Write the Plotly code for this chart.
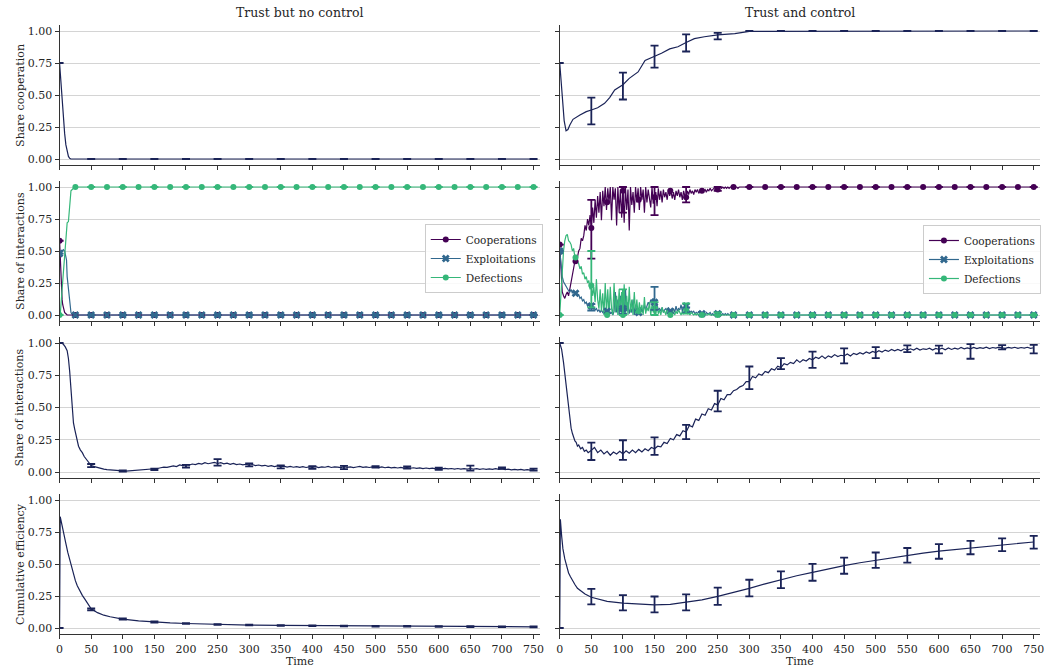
import plotly.graph_objects as go

# ---------------- data ----------------
NAVY = "#1a2357"
C_COOP = "#440154"
C_EXPL = "#31688e"
C_DEF = "#35b779"

T_ERR = [0, 50, 100, 150, 200, 250, 300, 350, 400, 450, 500, 550, 600, 650, 700, 750]
T_MARK = [0, 25, 50, 75, 100, 125, 150, 175, 200, 225, 250, 275, 300, 325, 350, 375,
          400, 425, 450, 475, 500, 525, 550, 575, 600, 625, 650, 675, 700, 725, 750]

# Row 1: share cooperation
t_coop_nc = [0, 2, 4, 6, 8, 10, 12, 14, 16, 18, 750]
coop_nc = [0.75, 0.60, 0.45, 0.32, 0.20, 0.11, 0.05, 0.02, 0.005, 0.0, 0.0]
coop_nc_err_y = [0.75, 0, 0, 0, 0, 0, 0, 0, 0, 0, 0, 0, 0, 0, 0, 0]
coop_nc_err = [0, 0, 0, 0, 0, 0, 0, 0, 0, 0, 0, 0, 0, 0, 0, 0]

t_coop_c = [0, 3, 7, 10, 13, 16, 21, 32, 42, 50, 60, 71, 79, 87, 100, 110, 124, 135,
            150, 161, 174, 187, 200, 213, 229, 250, 277, 300, 750]
coop_c = [0.75, 0.55, 0.30, 0.22, 0.23, 0.265, 0.31, 0.344, 0.37, 0.383, 0.40, 0.435,
          0.48, 0.54, 0.58, 0.63, 0.68, 0.77, 0.80, 0.826, 0.86, 0.877, 0.91, 0.94,
          0.955, 0.97, 0.98, 0.997, 1.0]
coop_c_err_y = [0.75, 0.375, 0.57, 0.80, 0.907, 0.96, 1, 1, 1, 1, 1, 1, 1, 1, 1, 1]
coop_c_err = [0, 0.105, 0.105, 0.086, 0.067, 0.025, 0, 0, 0, 0, 0, 0, 0, 0, 0, 0]

# Row 2: share of interactions (no control)
t_int_coop_nc = [0, 1, 2, 3, 4, 5, 6, 7, 8, 10, 12, 750]
int_coop_nc = [0.58, 0.45, 0.30, 0.20, 0.12, 0.08, 0.05, 0.03, 0.02, 0.01, 0.0, 0.0]
t_int_expl_nc = [0, 2, 4, 6, 8, 10, 11, 12, 14, 16, 18, 20, 750]
int_expl_nc = [0.48, 0.50, 0.50, 0.51, 0.50, 0.45, 0.43, 0.30, 0.20, 0.08, 0.02, 0.0, 0.0]
t_int_def_nc = [0, 1, 4, 7, 10, 12, 14, 16, 18, 22, 25, 750]
int_def_nc = [0.0, 0.0, 0.20, 0.42, 0.60, 0.72, 0.73, 0.90, 0.97, 0.99, 1.0, 1.0]

mark_coop_nc = [0.58, 0, 0, 0, 0, 0, 0, 0, 0, 0, 0, 0, 0, 0, 0, 0,
                0, 0, 0, 0, 0, 0, 0, 0, 0, 0, 0, 0, 0, 0, 0]
mark_expl_nc = [0.48, 0, 0, 0, 0, 0, 0, 0, 0, 0, 0, 0, 0, 0, 0, 0,
                0, 0, 0, 0, 0, 0, 0, 0, 0, 0, 0, 0, 0, 0, 0]
mark_def_nc = [0, 1, 1, 1, 1, 1, 1, 1, 1, 1, 1, 1, 1, 1, 1, 1,
               1, 1, 1, 1, 1, 1, 1, 1, 1, 1, 1, 1, 1, 1, 1]
err_coop_nc_y = [0.58, 0, 0, 0, 0, 0, 0, 0, 0, 0, 0, 0, 0, 0, 0, 0]
err_expl_nc_y = [0.48, 0, 0, 0, 0, 0, 0, 0, 0, 0, 0, 0, 0, 0, 0, 0]
err_def_nc_y = [0, 1, 1, 1, 1, 1, 1, 1, 1, 1, 1, 1, 1, 1, 1, 1]
err_zero = [0, 0, 0, 0, 0, 0, 0, 0, 0, 0, 0, 0, 0, 0, 0, 0]

# Row 2: share of interactions (control), t = 0..300 every 2, then 750
T2 = list(range(0, 302, 2)) + [750]
int_coop_c = [
    0.55, 0.30, 0.18, 0.15, 0.13, 0.16, 0.18, 0.15, 0.20, 0.27,
    0.32, 0.38, 0.42, 0.40, 0.47, 0.50, 0.52, 0.60, 0.58, 0.62,
    0.70, 0.66, 0.75, 0.70, 0.78, 0.68, 0.84, 0.72, 0.90, 0.76,
    0.93, 0.80, 0.96, 0.74, 0.97, 0.85, 1.00, 0.82, 0.99, 0.88,
    1.00, 0.74, 1.00, 0.90, 0.99, 0.70, 1.00, 0.80, 0.98, 0.76,
    0.97, 0.72, 1.00, 0.82, 0.98, 0.66, 1.00, 0.86, 0.96, 0.80,
    1.00, 0.88, 0.99, 0.82, 1.00, 0.90, 0.98, 0.80, 1.00, 0.88,
    0.98, 0.92, 0.84, 1.00, 0.87, 0.92, 0.96, 0.85, 0.99, 0.90,
    0.97, 0.88, 0.98, 0.92, 0.96, 0.90, 0.98, 0.93, 0.97, 0.91,
    0.96, 0.90, 0.97, 0.93, 0.98, 0.92, 0.96, 0.90, 0.97, 0.93,
    0.92, 0.97, 0.94, 0.98, 0.95, 0.97, 0.94, 0.98, 0.96, 0.98,
    0.95, 0.97, 0.96, 0.99, 0.97, 0.98, 0.96, 0.98, 0.97, 0.99,
    0.97, 0.98, 0.99, 0.98, 0.99, 0.98, 0.99, 1.00, 0.99, 1.00,
    0.99, 1.00, 0.99, 1.00, 0.99, 1.00, 1.00, 0.99, 1.00, 1.00,
    1.00, 0.99, 1.00, 1.00, 1.00, 1.00, 1.00, 1.00, 1.00, 1.00,
    1.00, 1.00]
int_expl_c = [
    0.50, 0.38, 0.30, 0.26, 0.24, 0.22, 0.20, 0.19, 0.18, 0.20,
    0.17, 0.19, 0.16, 0.18, 0.15, 0.16, 0.13, 0.14, 0.11, 0.12,
    0.09, 0.10, 0.07, 0.08, 0.06, 0.07, 0.05, 0.06, 0.04, 0.05,
    0.03, 0.04, 0.02, 0.04, 0.02, 0.03, 0.01, 0.03, 0.02, 0.05,
    0.01, 0.02, 0.00, 0.03, 0.18, 0.02, 0.12, 0.00, 0.15, 0.02,
    0.05, 0.00, 0.20, 0.03, 0.10, 0.01, 0.05, 0.02, 0.12, 0.00,
    0.08, 0.02, 0.04, 0.01, 0.06, 0.03, 0.02, 0.08, 0.04, 0.07,
    0.10, 0.08, 0.12, 0.09, 0.13, 0.10, 0.06, 0.08, 0.04, 0.05,
    0.03, 0.06, 0.02, 0.04, 0.05, 0.03, 0.06, 0.02, 0.04, 0.03,
    0.05, 0.02, 0.07, 0.03, 0.05, 0.04, 0.08, 0.03, 0.06, 0.04,
    0.07, 0.03, 0.04, 0.02, 0.03, 0.02, 0.03, 0.01, 0.02, 0.01,
    0.03, 0.01, 0.02, 0.01, 0.02, 0.00, 0.02, 0.01, 0.01, 0.02,
    0.00, 0.01, 0.00, 0.01, 0.02, 0.01, 0.00, 0.01, 0.00, 0.01,
    0.00, 0.01, 0.00, 0.01, 0.00, 0.00, 0.01, 0.00, 0.00, 0.00,
    0.00, 0.00, 0.00, 0.00, 0.00, 0.00, 0.00, 0.00, 0.00, 0.00,
    0.00, 0.00]
int_def_c = [
    0.00, 0.20, 0.38, 0.50, 0.58, 0.62, 0.63, 0.58, 0.57, 0.55,
    0.50, 0.52, 0.45, 0.47, 0.42, 0.40, 0.36, 0.38, 0.32, 0.33,
    0.28, 0.30, 0.25, 0.27, 0.20, 0.23, 0.15, 0.22, 0.10, 0.28,
    0.12, 0.05, 0.20, 0.03, 0.17, 0.00, 0.25, 0.02, 0.20, 0.00,
    0.22, 0.05, 0.00, 0.25, 0.02, 0.15, 0.00, 0.20, 0.03, 0.18,
    0.00, 0.24, 0.01, 0.15, 0.00, 0.22, 0.02, 0.12, 0.00, 0.18,
    0.01, 0.12, 0.00, 0.10, 0.02, 0.08, 0.00, 0.14, 0.01, 0.06,
    0.03, 0.10, 0.00, 0.08, 0.02, 0.05, 0.00, 0.07, 0.01, 0.04,
    0.00, 0.06, 0.02, 0.03, 0.00, 0.05, 0.01, 0.03, 0.00, 0.04,
    0.02, 0.00, 0.03, 0.01, 0.04, 0.02, 0.00, 0.03, 0.01, 0.02,
    0.04, 0.01, 0.02, 0.00, 0.02, 0.01, 0.00, 0.01, 0.00, 0.01,
    0.00, 0.01, 0.00, 0.01, 0.00, 0.01, 0.00, 0.00, 0.01, 0.00,
    0.00, 0.00, 0.00, 0.00, 0.00, 0.00, 0.00, 0.00, 0.00, 0.00,
    0.00, 0.00, 0.00, 0.00, 0.00, 0.00, 0.00, 0.00, 0.00, 0.00,
    0.00, 0.00, 0.00, 0.00, 0.00, 0.00, 0.00, 0.00, 0.00, 0.00,
    0.00, 0.00]

mark_coop_c = [0.55, 0.42, 0.68, 0.88, 0.97, 0.90, 0.92, 0.97, 0.92, 0.97, 0.98, 1.0,
               1, 1, 1, 1, 1, 1, 1, 1, 1, 1, 1, 1, 1, 1, 1, 1, 1, 1, 1]
mark_expl_c = [0.50, 0.17, 0.07, 0.03, 0.05, 0.02, 0.10, 0.03, 0.07, 0.01, 0.01, 0.0,
               0, 0, 0, 0, 0, 0, 0, 0, 0, 0, 0, 0, 0, 0, 0, 0, 0, 0, 0]
mark_def_c = [0.0, 0.45, 0.23, 0.0, 0.0, 0.03, 0.05, 0.0, 0.04, 0.0, 0.0, 0.0,
              0, 0, 0, 0, 0, 0, 0, 0, 0, 0, 0, 0, 0, 0, 0, 0, 0, 0, 0]
err_coop_c_y = [0.55, 0.67, 0.90, 0.89, 0.94, 0.985, 1, 1, 1, 1, 1, 1, 1, 1, 1, 1]
err_coop_c = [0, 0.23, 0.10, 0.11, 0.06, 0.015, 0, 0, 0, 0, 0, 0, 0, 0, 0, 0]
err_expl_c_y = [0.50, 0.06, 0.03, 0.13, 0.04, 0.01, 0, 0, 0, 0, 0, 0, 0, 0, 0, 0]
err_expl_c = [0, 0.025, 0.02, 0.09, 0.02, 0.01, 0, 0, 0, 0, 0, 0, 0, 0, 0, 0]
err_def_c_y = [0.0, 0.28, 0.10, 0.05, 0.05, 0.01, 0, 0, 0, 0, 0, 0, 0, 0, 0, 0]
err_def_c = [0, 0.22, 0.10, 0.05, 0.04, 0.01, 0, 0, 0, 0, 0, 0, 0, 0, 0, 0]

# Row 3: share of interactions (single series)
t3_early = [0, 3, 6, 9, 12, 14, 16, 18, 20, 22, 24, 26, 28, 30, 33, 36, 39, 42, 45, 48]
T3_LATE = list(range(50, 751, 5))
t3 = t3_early + T3_LATE
share_nc = [1.0, 1.0, 0.99, 0.97, 0.94, 0.88, 0.78, 0.62, 0.45, 0.38,
            0.33, 0.28, 0.23, 0.20, 0.17, 0.15, 0.12, 0.10, 0.08, 0.06] + [
    0.050, 0.042, 0.034, 0.027, 0.022, 0.018, 0.015, 0.012, 0.010, 0.009,
    0.008, 0.007, 0.009, 0.008, 0.010, 0.011, 0.013, 0.016, 0.018, 0.020,
    0.024, 0.027, 0.033, 0.038, 0.036, 0.045, 0.048, 0.042, 0.055, 0.050,
    0.058, 0.053, 0.062, 0.057, 0.066, 0.061, 0.072, 0.064, 0.068, 0.074,
    0.066, 0.072, 0.063, 0.069, 0.060, 0.066, 0.057, 0.062, 0.055, 0.060,
    0.053, 0.058, 0.050, 0.054, 0.047, 0.052, 0.044, 0.049, 0.042, 0.047,
    0.040, 0.045, 0.038, 0.043, 0.037, 0.042, 0.036, 0.041, 0.035, 0.040,
    0.036, 0.041, 0.034, 0.040, 0.037, 0.043, 0.035, 0.040, 0.038, 0.034,
    0.041, 0.036, 0.040, 0.034, 0.039, 0.043, 0.036, 0.040, 0.035, 0.039,
    0.037, 0.034, 0.039, 0.033, 0.037, 0.032, 0.036, 0.031, 0.035, 0.030,
    0.034, 0.029, 0.033, 0.028, 0.032, 0.027, 0.031, 0.026, 0.030, 0.025,
    0.029, 0.025, 0.028, 0.024, 0.027, 0.023, 0.027, 0.022, 0.026, 0.022,
    0.027, 0.023, 0.026, 0.021, 0.025, 0.020, 0.024, 0.020, 0.026, 0.021,
    0.025, 0.019, 0.022, 0.017, 0.021, 0.016, 0.020, 0.015, 0.018, 0.014,
    0.017]
share_nc_err_y = [1.0, 0.05, 0.008, 0.02, 0.045, 0.075, 0.055, 0.04, 0.035, 0.035,
                  0.04, 0.035, 0.025, 0.03, 0.03, 0.018]
share_nc_err = [0, 0.012, 0.004, 0.006, 0.01, 0.025, 0.012, 0.012, 0.01, 0.012,
                0.005, 0.008, 0.008, 0.02, 0.005, 0.008]

share_c = [1.0, 0.95, 0.85, 0.72, 0.60, 0.48, 0.40, 0.34, 0.30, 0.27,
           0.24, 0.23, 0.20, 0.21, 0.18, 0.19, 0.16, 0.17, 0.15, 0.16] + [
    0.170, 0.190, 0.150, 0.170, 0.140, 0.160, 0.130, 0.155, 0.140, 0.160,
    0.140, 0.165, 0.145, 0.170, 0.150, 0.175, 0.155, 0.180, 0.165, 0.190,
    0.180, 0.200, 0.195, 0.230, 0.220, 0.260, 0.250, 0.290, 0.280, 0.320,
    0.310, 0.360, 0.350, 0.410, 0.400, 0.450, 0.440, 0.490, 0.480, 0.530,
    0.520, 0.570, 0.560, 0.600, 0.600, 0.630, 0.640, 0.660, 0.670, 0.700,
    0.700, 0.740, 0.730, 0.760, 0.750, 0.780, 0.770, 0.800, 0.790, 0.820,
    0.810, 0.840, 0.830, 0.850, 0.840, 0.870, 0.850, 0.870, 0.860, 0.880,
    0.870, 0.890, 0.880, 0.900, 0.880, 0.900, 0.890, 0.910, 0.895, 0.905,
    0.900, 0.915, 0.900, 0.920, 0.910, 0.925, 0.915, 0.930, 0.920, 0.935,
    0.925, 0.940, 0.930, 0.945, 0.935, 0.950, 0.940, 0.950, 0.940, 0.955,
    0.945, 0.955, 0.945, 0.960, 0.945, 0.955, 0.950, 0.960, 0.945, 0.958,
    0.950, 0.960, 0.948, 0.962, 0.950, 0.960, 0.952, 0.965, 0.955, 0.962,
    0.955, 0.966, 0.956, 0.964, 0.958, 0.967, 0.957, 0.965, 0.960, 0.968,
    0.962, 0.958, 0.966, 0.960, 0.967, 0.958, 0.965, 0.960, 0.967, 0.959,
    0.963]
share_c_err_y = [1.0, 0.16, 0.17, 0.20, 0.31, 0.55, 0.73, 0.84, 0.87, 0.90,
                 0.925, 0.956, 0.95, 0.935, 0.967, 0.953]
share_c_err = [0, 0.067, 0.076, 0.068, 0.055, 0.08, 0.088, 0.043, 0.063, 0.058,
               0.043, 0.026, 0.03, 0.057, 0.017, 0.033]

# Row 4: cumulative efficiency
t_eff_nc = [0, 1, 4, 7, 10, 13, 16, 19, 22, 25, 28, 32, 36, 40, 45, 50, 60, 70, 80, 90,
            100, 125, 150, 175, 200, 250, 300, 350, 400, 450, 500, 550, 600, 650, 700, 750]
eff_nc = [0.0, 0.87, 0.80, 0.74, 0.66, 0.59, 0.53, 0.47, 0.42, 0.37, 0.33, 0.29, 0.255,
          0.225, 0.185, 0.15, 0.12, 0.10, 0.088, 0.078, 0.07, 0.056, 0.047, 0.04, 0.035,
          0.028, 0.023, 0.02, 0.018, 0.016, 0.014, 0.013, 0.012, 0.011, 0.01, 0.009]
eff_nc_err_y = [0.0, 0.145, 0.07, 0.047, 0.035, 0.028, 0.023, 0.02, 0.018, 0.016,
                0.014, 0.013, 0.012, 0.011, 0.01, 0.009]
eff_nc_err = [0, 0.008, 0.005, 0.004, 0.003, 0.003, 0.003, 0.003, 0.003, 0.003,
              0.003, 0.003, 0.003, 0.003, 0.003, 0.003]

t_eff_c = [0, 1, 3, 5, 8, 11, 14, 17, 20, 24, 28, 33, 40, 50, 60, 75, 100, 125, 150, 175,
           200, 225, 250, 275, 300, 325, 350, 375, 400, 425, 450, 475, 500, 525, 550,
           575, 600, 625, 650, 675, 700, 725, 750]
eff_c = [0.0, 0.85, 0.72, 0.62, 0.54, 0.48, 0.43, 0.40, 0.37, 0.34, 0.31, 0.29, 0.265,
         0.24, 0.225, 0.208, 0.195, 0.185, 0.18, 0.185, 0.20, 0.22, 0.247, 0.277, 0.31,
         0.345, 0.378, 0.408, 0.435, 0.462, 0.487, 0.51, 0.53, 0.55, 0.568, 0.585, 0.60,
         0.613, 0.625, 0.637, 0.648, 0.66, 0.672]
eff_c_err_y = [0.0, 0.245, 0.197, 0.184, 0.20, 0.248, 0.312, 0.377, 0.435, 0.487,
               0.53, 0.568, 0.598, 0.628, 0.65, 0.67]
eff_c_err = [0, 0.06, 0.06, 0.062, 0.062, 0.068, 0.065, 0.066, 0.066, 0.063,
             0.06, 0.057, 0.057, 0.052, 0.05, 0.05]

col_titles = ["Trust but no control", "Trust and control"]
row_ylabels = ["Share cooperation", "Share of interactions", "Share of interactions",
               "Cumulative efficiency"]
series_names = ["Cooperations", "Exploitations", "Defections"]
X_TICKS = [0, 50, 100, 150, 200, 250, 300, 350, 400, 450, 500, 550, 600, 650, 700, 750]
Y_TICKS = [0, 0.25, 0.5, 0.75, 1.0]
Y_TICKTEXT = ["0.00", "0.25", "0.50", "0.75", "1.00"]

# ---------------- layout geometry (pixels) ----------------
W, H = 1049, 671
COL_PX = [(56, 540), (560, 1044)]
ROW_PX = [(24.6, 165.4), (180.6, 321.4), (336.55, 478.45), (493.6, 634.4)]
FONT = "DejaVu Serif"
TXT = "#262626"

fig = go.Figure()


def ax_id(r, c):
    n = r * 2 + c + 1
    return ("x" if n == 1 else f"x{n}"), ("y" if n == 1 else f"y{n}")


def add_line(r, c, x, y, color, width=1.2):
    xa, ya = ax_id(r, c)
    fig.add_trace(go.Scatter(x=x, y=y, mode="lines", line=dict(color=color, width=width),
                             showlegend=False, hoverinfo="skip", xaxis=xa, yaxis=ya))


def add_err(r, c, yv, ev, color):
    xa, ya = ax_id(r, c)
    fig.add_trace(go.Scatter(x=T_ERR, y=yv, mode="markers", marker=dict(size=0.1, color=color),
                             error_y=dict(type="data", array=ev, visible=True, color=color,
                                          thickness=1.8, width=4),
                             showlegend=False, hoverinfo="skip", xaxis=xa, yaxis=ya))


def add_marks(r, c, yv, color, symbol, size):
    xa, ya = ax_id(r, c)
    fig.add_trace(go.Scatter(x=T_MARK, y=yv, mode="markers",
                             marker=dict(size=size, color=color, symbol=symbol,
                                         line=dict(width=0)),
                             showlegend=False, hoverinfo="skip", xaxis=xa, yaxis=ya))


# Row 1
add_line(0, 0, t_coop_nc, coop_nc, NAVY)
add_err(0, 0, coop_nc_err_y, coop_nc_err, NAVY)
add_line(0, 1, t_coop_c, coop_c, NAVY)
add_err(0, 1, coop_c_err_y, coop_c_err, NAVY)

# Row 2
colors3 = [C_COOP, C_EXPL, C_DEF]
symbols3 = ["circle", "x", "circle"]
sizes3 = [6, 7, 6]
nc_lines = [(t_int_coop_nc, int_coop_nc), (t_int_expl_nc, int_expl_nc), (t_int_def_nc, int_def_nc)]
nc_marks = [mark_coop_nc, mark_expl_nc, mark_def_nc]
nc_errs = [(err_coop_nc_y, err_zero), (err_expl_nc_y, err_zero), (err_def_nc_y, err_zero)]
c_lines = [(T2, int_coop_c), (T2, int_expl_c), (T2, int_def_c)]
c_marks = [mark_coop_c, mark_expl_c, mark_def_c]
c_errs = [(err_coop_c_y, err_coop_c), (err_expl_c_y, err_expl_c), (err_def_c_y, err_def_c)]

for c, lines, marks, errs in [(0, nc_lines, nc_marks, nc_errs), (1, c_lines, c_marks, c_errs)]:
    for k in range(3):
        add_line(1, c, lines[k][0], lines[k][1], colors3[k])
    for k in range(3):
        add_marks(1, c, marks[k], colors3[k], symbols3[k], sizes3[k])
    for k in range(3):
        add_err(1, c, errs[k][0], errs[k][1], colors3[k])
    xa, ya = ax_id(1, c)
    for k in range(3):
        fig.add_trace(go.Scatter(x=[None], y=[None], mode="lines+markers", name=series_names[k],
                                 line=dict(color=colors3[k], width=1.2),
                                 marker=dict(color=colors3[k], symbol=symbols3[k], size=sizes3[k]),
                                 legend="legend" if c == 0 else "legend2",
                                 xaxis=xa, yaxis=ya))

# Row 3
add_line(2, 0, t3, share_nc, NAVY)
add_err(2, 0, share_nc_err_y, share_nc_err, NAVY)
add_line(2, 1, t3, share_c, NAVY)
add_err(2, 1, share_c_err_y, share_c_err, NAVY)

# Row 4
add_line(3, 0, t_eff_nc, eff_nc, NAVY)
add_err(3, 0, eff_nc_err_y, eff_nc_err, NAVY)
add_line(3, 1, t_eff_c, eff_c, NAVY)
add_err(3, 1, eff_c_err_y, eff_c_err, NAVY)

# ---------------- axes ----------------
layout_axes = {}
for r in range(4):
    for c in range(2):
        n = r * 2 + c + 1
        xk = "xaxis" if n == 1 else f"xaxis{n}"
        yk = "yaxis" if n == 1 else f"yaxis{n}"
        x0, x1 = COL_PX[c]
        t0, b0 = ROW_PX[r]
        layout_axes[xk] = dict(
            domain=[x0 / W, x1 / W], range=[0, 760], tickvals=X_TICKS,
            showticklabels=(r == 3), ticks="outside", ticklen=4, tickwidth=1,
            tickcolor="#333333", showline=True, linecolor="#333333", linewidth=1,
            showgrid=False, zeroline=False, anchor=("y" if n == 1 else f"y{n}"),
            tickfont=dict(family=FONT, size=11, color=TXT), fixedrange=True)
        layout_axes[yk] = dict(
            domain=[1 - b0 / H, 1 - t0 / H], range=[-0.05, 1.05], tickvals=Y_TICKS,
            ticktext=Y_TICKTEXT, showticklabels=(c == 0), ticks="outside", ticklen=4,
            tickwidth=1, tickcolor="#333333", showline=True, linecolor="#333333",
            linewidth=1, showgrid=True, gridcolor="#d4d4d4", gridwidth=1, zeroline=False,
            anchor=("x" if n == 1 else f"x{n}"),
            tickfont=dict(family=FONT, size=11, color=TXT), fixedrange=True)

annotations = []
for c in range(2):
    xc = (COL_PX[c][0] + COL_PX[c][1]) / 2 / W
    annotations.append(dict(text=col_titles[c], x=xc, y=1 - 13 / H, xref="paper", yref="paper",
                            xanchor="center", yanchor="middle", showarrow=False,
                            font=dict(family=FONT, size=12.5, color=TXT)))
    annotations.append(dict(text="Time", x=xc, y=1 - 661 / H, xref="paper", yref="paper",
                            xanchor="center", yanchor="middle", showarrow=False,
                            font=dict(family=FONT, size=11, color=TXT)))
for r in range(4):
    yc = 1 - (ROW_PX[r][0] + ROW_PX[r][1]) / 2 / H
    annotations.append(dict(text=row_ylabels[r], x=16 / W, y=yc, xref="paper", yref="paper",
                            xanchor="center", yanchor="middle", textangle=-90, showarrow=False,
                            font=dict(family=FONT, size=11, color=TXT)))

legend_style = dict(xanchor="left", yanchor="top", bgcolor="rgba(255,255,255,0.85)",
                    bordercolor="#cccccc", borderwidth=1,
                    font=dict(family=FONT, size=10.5, color=TXT), tracegroupgap=0,
                    itemwidth=30)

fig.update_layout(
    width=W, height=H, margin=dict(l=0, r=0, t=0, b=0),
    paper_bgcolor="white", plot_bgcolor="white",
    showlegend=True,
    legend=dict(x=424 / W, y=1 - 224 / H, **legend_style),
    legend2=dict(x=926 / W, y=1 - 225 / H, **legend_style),
    annotations=annotations,
    **layout_axes,
)

fig.write_html("out.html", config={"displayModeBar": False, "staticPlot": True})

# remove the default page margin so the figure sits at the window's top-left corner
with open("out.html", "r", encoding="utf-8") as fh:
    html = fh.read()
html = html.replace("<head>", "<head><style>html,body{margin:0;padding:0;overflow:hidden;}</style>", 1)
with open("out.html", "w", encoding="utf-8") as fh:
    fh.write(html)
